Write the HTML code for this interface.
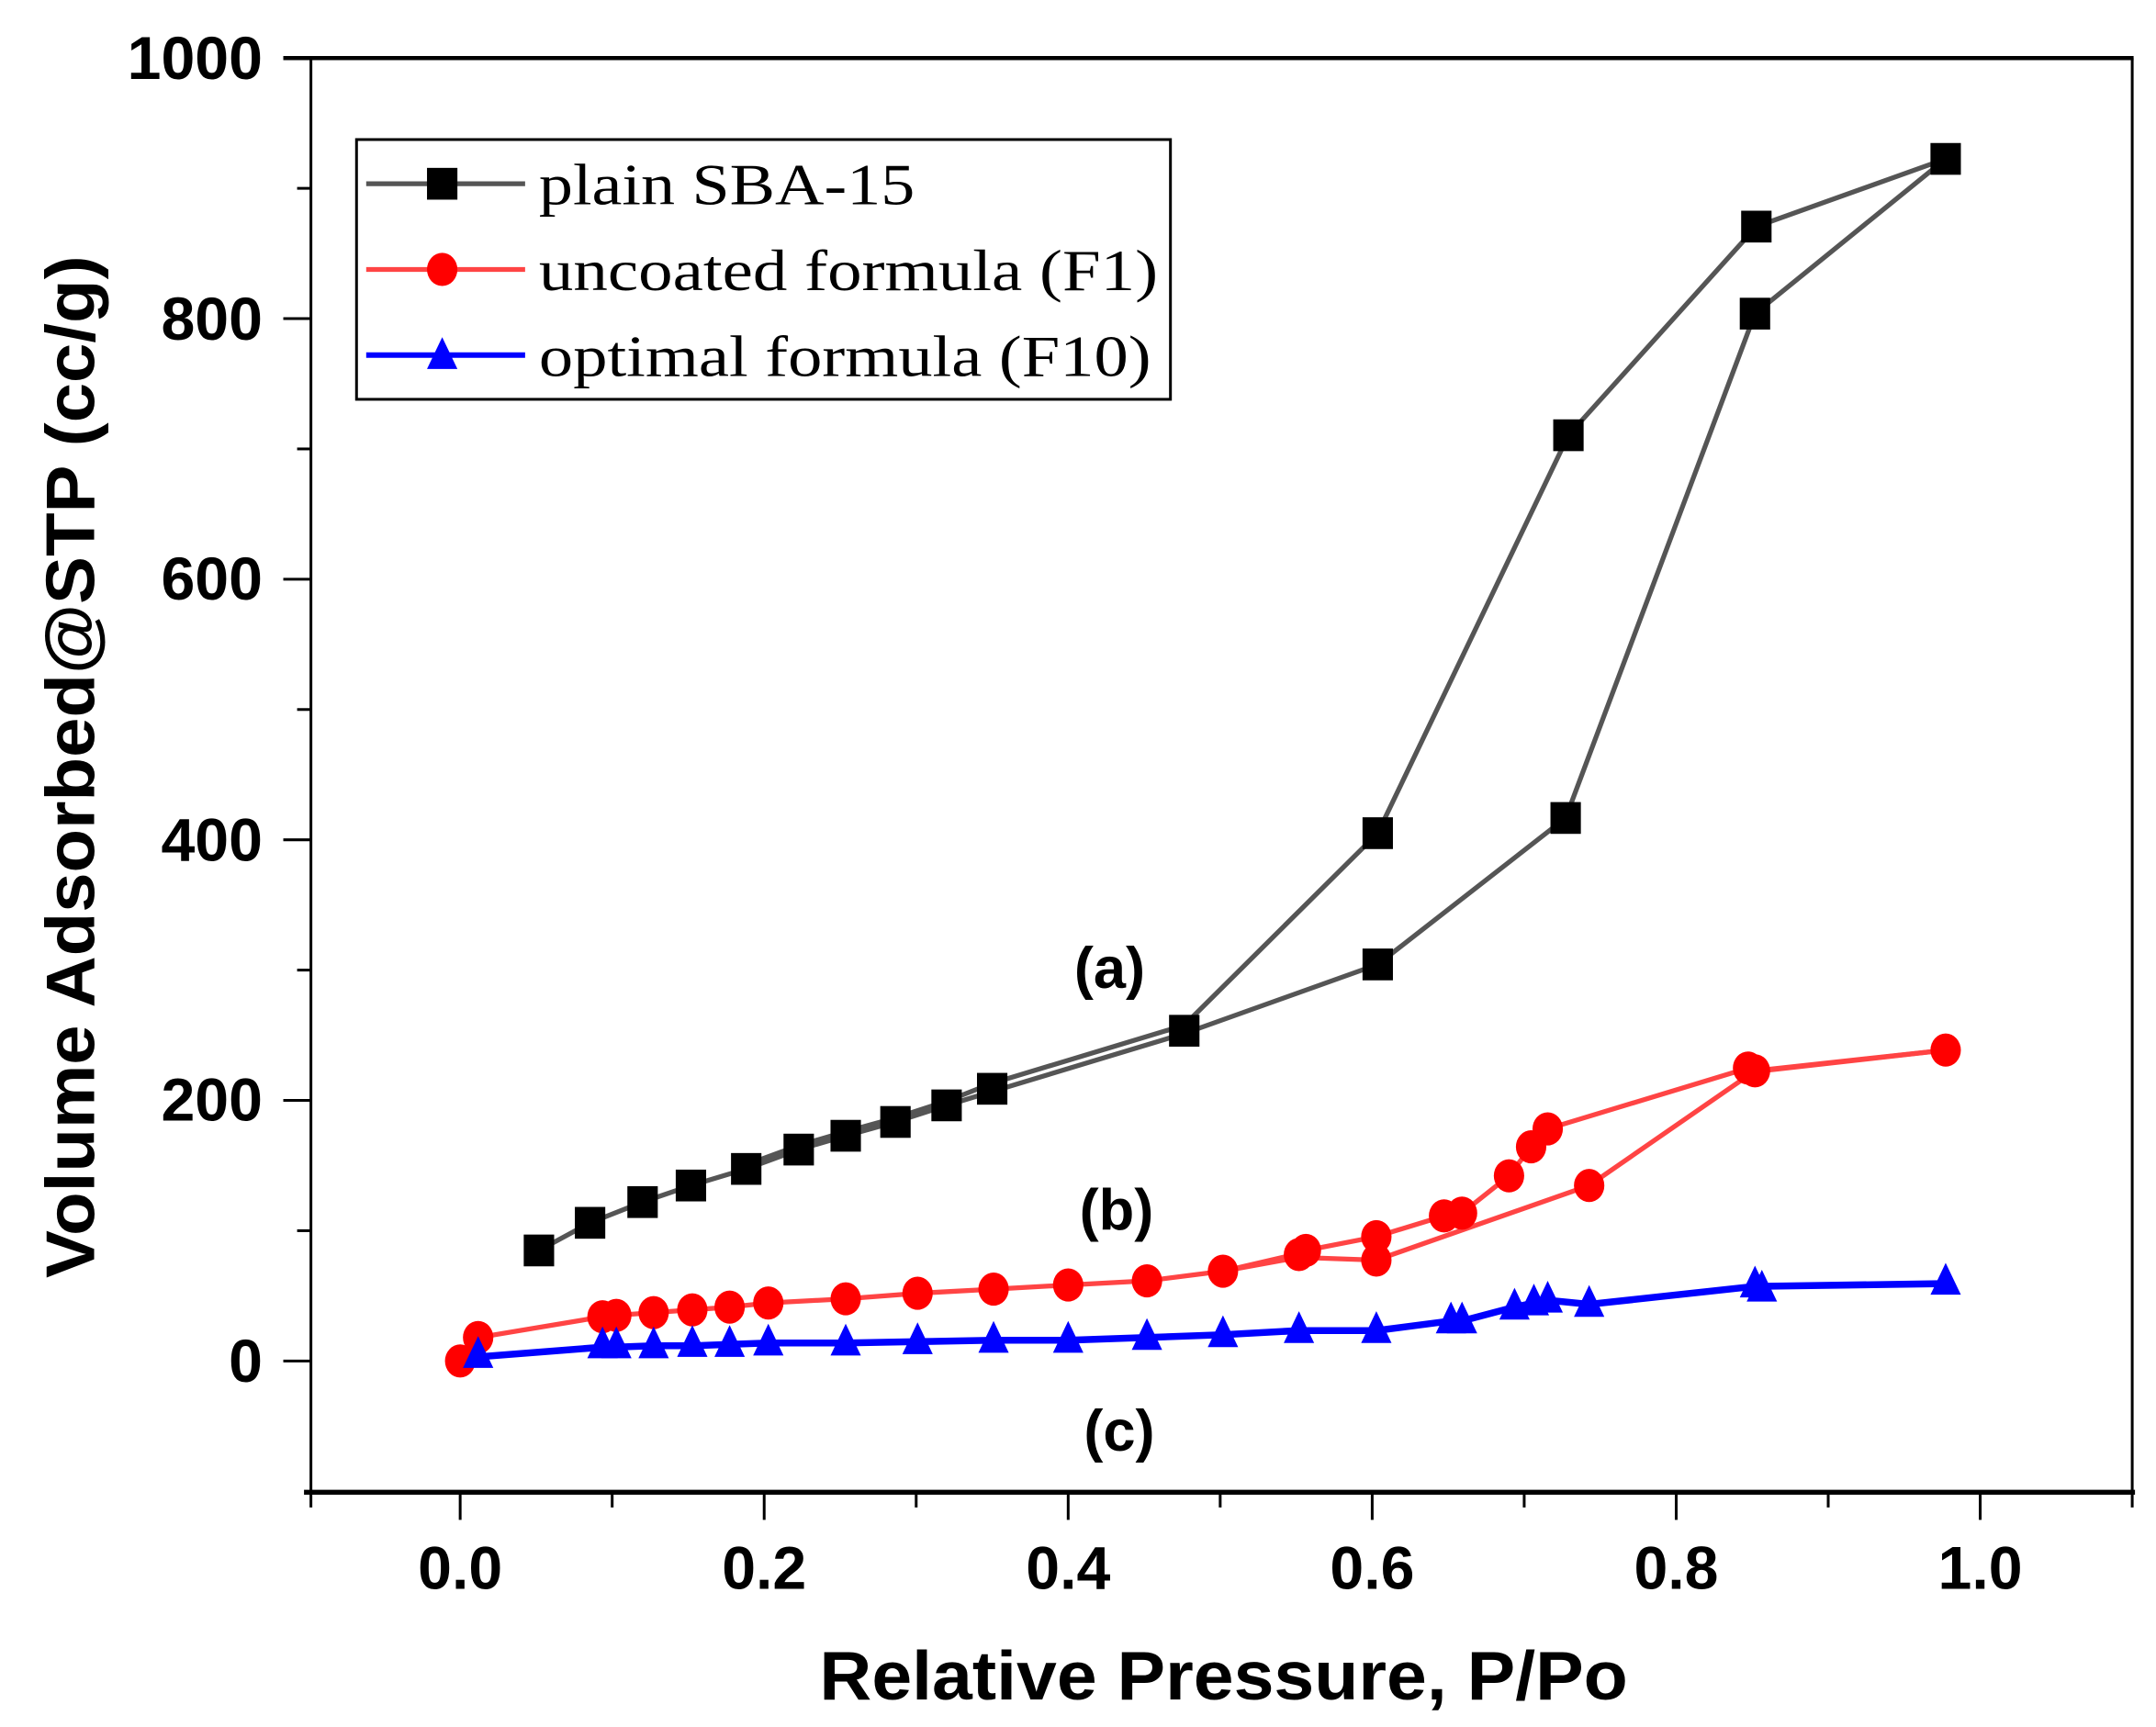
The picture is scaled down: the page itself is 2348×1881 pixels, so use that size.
<!DOCTYPE html>
<html><head><meta charset="utf-8"><style>html,body{margin:0;padding:0;background:#fff}svg{display:block}</style></head>
<body>
<svg width="2348" height="1881" viewBox="0 0 1560.2 1249.9" xmlns="http://www.w3.org/2000/svg">
<defs>
<rect id="sq" x="-11" y="-11.5" width="22" height="23" fill="#000"/>
<ellipse id="ci" cx="0" cy="0" rx="11" ry="12" fill="#f00"/>
<polygon id="tr" points="0,-13 11,10 -11,10" fill="#00f"/>
</defs>
<g stroke="#000" fill="none">
<line x1="205" y1="42" x2="1544" y2="42" stroke-width="3"/>
<line x1="220" y1="1080" x2="1545" y2="1080" stroke-width="3.5"/>
<line x1="225" y1="42" x2="225" y2="1080" stroke-width="2"/>
<line x1="1543" y1="42" x2="1543" y2="1080" stroke-width="2"/>
<g stroke-width="2">
<line x1="205" y1="230.6" x2="225" y2="230.6"/><line x1="205" y1="419.2" x2="225" y2="419.2"/>
<line x1="205" y1="607.8" x2="225" y2="607.8"/><line x1="205" y1="796.4" x2="225" y2="796.4"/>
<line x1="205" y1="985" x2="225" y2="985"/>
<line x1="215" y1="136.3" x2="225" y2="136.3"/><line x1="215" y1="324.9" x2="225" y2="324.9"/>
<line x1="215" y1="513.5" x2="225" y2="513.5"/><line x1="215" y1="702.1" x2="225" y2="702.1"/>
<line x1="215" y1="890.7" x2="225" y2="890.7"/>
<line x1="333" y1="1080" x2="333" y2="1100"/><line x1="553" y1="1080" x2="553" y2="1100"/>
<line x1="773" y1="1080" x2="773" y2="1100"/><line x1="993" y1="1080" x2="993" y2="1100"/>
<line x1="1213" y1="1080" x2="1213" y2="1100"/><line x1="1433" y1="1080" x2="1433" y2="1100"/>
<line x1="225" y1="1080" x2="225" y2="1091"/><line x1="443" y1="1080" x2="443" y2="1091"/>
<line x1="663" y1="1080" x2="663" y2="1091"/><line x1="883" y1="1080" x2="883" y2="1091"/>
<line x1="1103" y1="1080" x2="1103" y2="1091"/><line x1="1323" y1="1080" x2="1323" y2="1091"/>
<line x1="1543" y1="1080" x2="1543" y2="1091"/>
</g></g>
<g font-family="Liberation Sans, Arial, sans-serif" font-weight="bold" font-size="44" fill="#000">
<g text-anchor="end">
<text x="190" y="57">1000</text><text x="190" y="246">800</text><text x="190" y="434">600</text>
<text x="190" y="623">400</text><text x="190" y="811">200</text><text x="190" y="1000">0</text>
</g>
<g text-anchor="middle">
<text x="333" y="1150">0.0</text><text x="553" y="1150">0.2</text><text x="773" y="1150">0.4</text>
<text x="993" y="1150">0.6</text><text x="1213" y="1150">0.8</text><text x="1433" y="1150">1.0</text>
</g>
<text x="593" y="1230" font-size="50" textLength="585" lengthAdjust="spacingAndGlyphs">Relative Pressure, P/Po</text>
<text transform="translate(68,925) rotate(-90)" font-size="50" textLength="740" lengthAdjust="spacingAndGlyphs">Volume Adsorbed@STP (cc/g)</text>
<text x="803" y="715" text-anchor="middle" font-size="42">(a)</text>
<text x="808" y="890" text-anchor="middle" font-size="42">(b)</text>
<text x="810" y="1050" text-anchor="middle" font-size="42">(c)</text>
</g>
<rect x="258" y="101" width="589" height="188" fill="#fff" stroke="#000" stroke-width="2"/>
<line x1="265" y1="133" x2="380" y2="133" stroke="#555" stroke-width="3.5"/><use href="#sq" x="320" y="133"/>
<line x1="265" y1="195" x2="380" y2="195" stroke="#f44" stroke-width="3.5"/><use href="#ci" x="320" y="195"/>
<line x1="265" y1="257" x2="380" y2="257" stroke="#00f" stroke-width="4"/><use href="#tr" x="320" y="257"/>
<g font-family="Liberation Serif, Times New Roman, serif" font-size="42" fill="#000">
<text x="390" y="148" textLength="272" lengthAdjust="spacingAndGlyphs">plain SBA-15</text>
<text x="390" y="210" textLength="448" lengthAdjust="spacingAndGlyphs">uncoated formula (F1)</text>
<text x="390" y="272" textLength="443" lengthAdjust="spacingAndGlyphs">optimal formula (F10)</text>
</g>
<g fill="none" stroke="#555" stroke-width="3.5">
<polyline points="390,905 427,885 465,870 500,858 540,846 578,832 612,822 648,812 685,800 718,790 857,748 997,698 1133,592 1270,227 1408,115"/>
<polyline points="1408,115 1271,164 1135,315 997,603 857,742 718,784 685,797 648,809 612,819 578,829 540,843"/>
</g>
<g>
<use href="#sq" x="390" y="905"/><use href="#sq" x="427" y="885"/><use href="#sq" x="465" y="870"/><use href="#sq" x="500" y="858"/>
<use href="#sq" x="540" y="846"/><use href="#sq" x="578" y="832"/><use href="#sq" x="612" y="822"/><use href="#sq" x="648" y="812"/>
<use href="#sq" x="685" y="800"/><use href="#sq" x="718" y="788"/><use href="#sq" x="857" y="746"/><use href="#sq" x="997" y="698"/>
<use href="#sq" x="1133" y="592"/><use href="#sq" x="1270" y="227"/><use href="#sq" x="1408" y="115"/>
<use href="#sq" x="1271" y="164"/><use href="#sq" x="1135" y="315"/><use href="#sq" x="997" y="603"/>
</g>
<g fill="none" stroke="#f44" stroke-width="3.5">
<polyline points="333,985 346,968 436,953 446,952 473,950 501,948 528,946 556,943 612,940 664,936 719,933 773,930 830,927 885,920 940,910 996,912 1150,858 1270,775 1408,760"/>
<polyline points="1408,760 1275,775 1265,773 1120,817 1108,830 1092,851 1058,878 1045,880 996,895 945,905 937,908 885,920"/>
</g>
<g>
<use href="#ci" x="333" y="985"/><use href="#ci" x="346" y="968"/><use href="#ci" x="436" y="953"/><use href="#ci" x="446" y="952"/>
<use href="#ci" x="473" y="950"/><use href="#ci" x="501" y="948"/><use href="#ci" x="528" y="946"/><use href="#ci" x="556" y="943"/>
<use href="#ci" x="612" y="940"/><use href="#ci" x="664" y="936"/><use href="#ci" x="719" y="933"/><use href="#ci" x="773" y="930"/>
<use href="#ci" x="830" y="927"/><use href="#ci" x="885" y="920"/><use href="#ci" x="940" y="908"/><use href="#ci" x="996" y="912"/>
<use href="#ci" x="1150" y="858"/><use href="#ci" x="1270" y="775"/><use href="#ci" x="1408" y="760"/><use href="#ci" x="1265" y="773"/>
<use href="#ci" x="1120" y="817"/><use href="#ci" x="1108" y="830"/><use href="#ci" x="1092" y="851"/><use href="#ci" x="1058" y="878"/>
<use href="#ci" x="1045" y="880"/><use href="#ci" x="996" y="895"/><use href="#ci" x="945" y="905"/>
</g>
<g fill="none" stroke="#00f" stroke-width="5">
<polyline points="346,982 436,975 446,975 473,974 501,974 528,973 556,972 612,972 664,971 719,970 773,970 830,968 885,966 940,963 996,963 1050,956 1058,956 1096,946 1110,943 1120,941 1150,944 1270,931 1408,929"/>
</g>
<g>
<use href="#tr" x="346" y="980"/><use href="#tr" x="436" y="973"/><use href="#tr" x="446" y="973"/><use href="#tr" x="473" y="973"/>
<use href="#tr" x="501" y="972"/><use href="#tr" x="528" y="972"/><use href="#tr" x="556" y="971"/><use href="#tr" x="612" y="971"/>
<use href="#tr" x="664" y="970"/><use href="#tr" x="719" y="969"/><use href="#tr" x="773" y="969"/><use href="#tr" x="830" y="967"/>
<use href="#tr" x="885" y="965"/><use href="#tr" x="940" y="962"/><use href="#tr" x="996" y="962"/><use href="#tr" x="1050" y="955"/>
<use href="#tr" x="1058" y="955"/><use href="#tr" x="1096" y="945"/><use href="#tr" x="1110" y="942"/><use href="#tr" x="1120" y="940"/>
<use href="#tr" x="1150" y="943"/><use href="#tr" x="1270" y="929"/><use href="#tr" x="1275" y="932"/><use href="#tr" x="1408" y="927"/>
</g>
</svg>
</body></html>
